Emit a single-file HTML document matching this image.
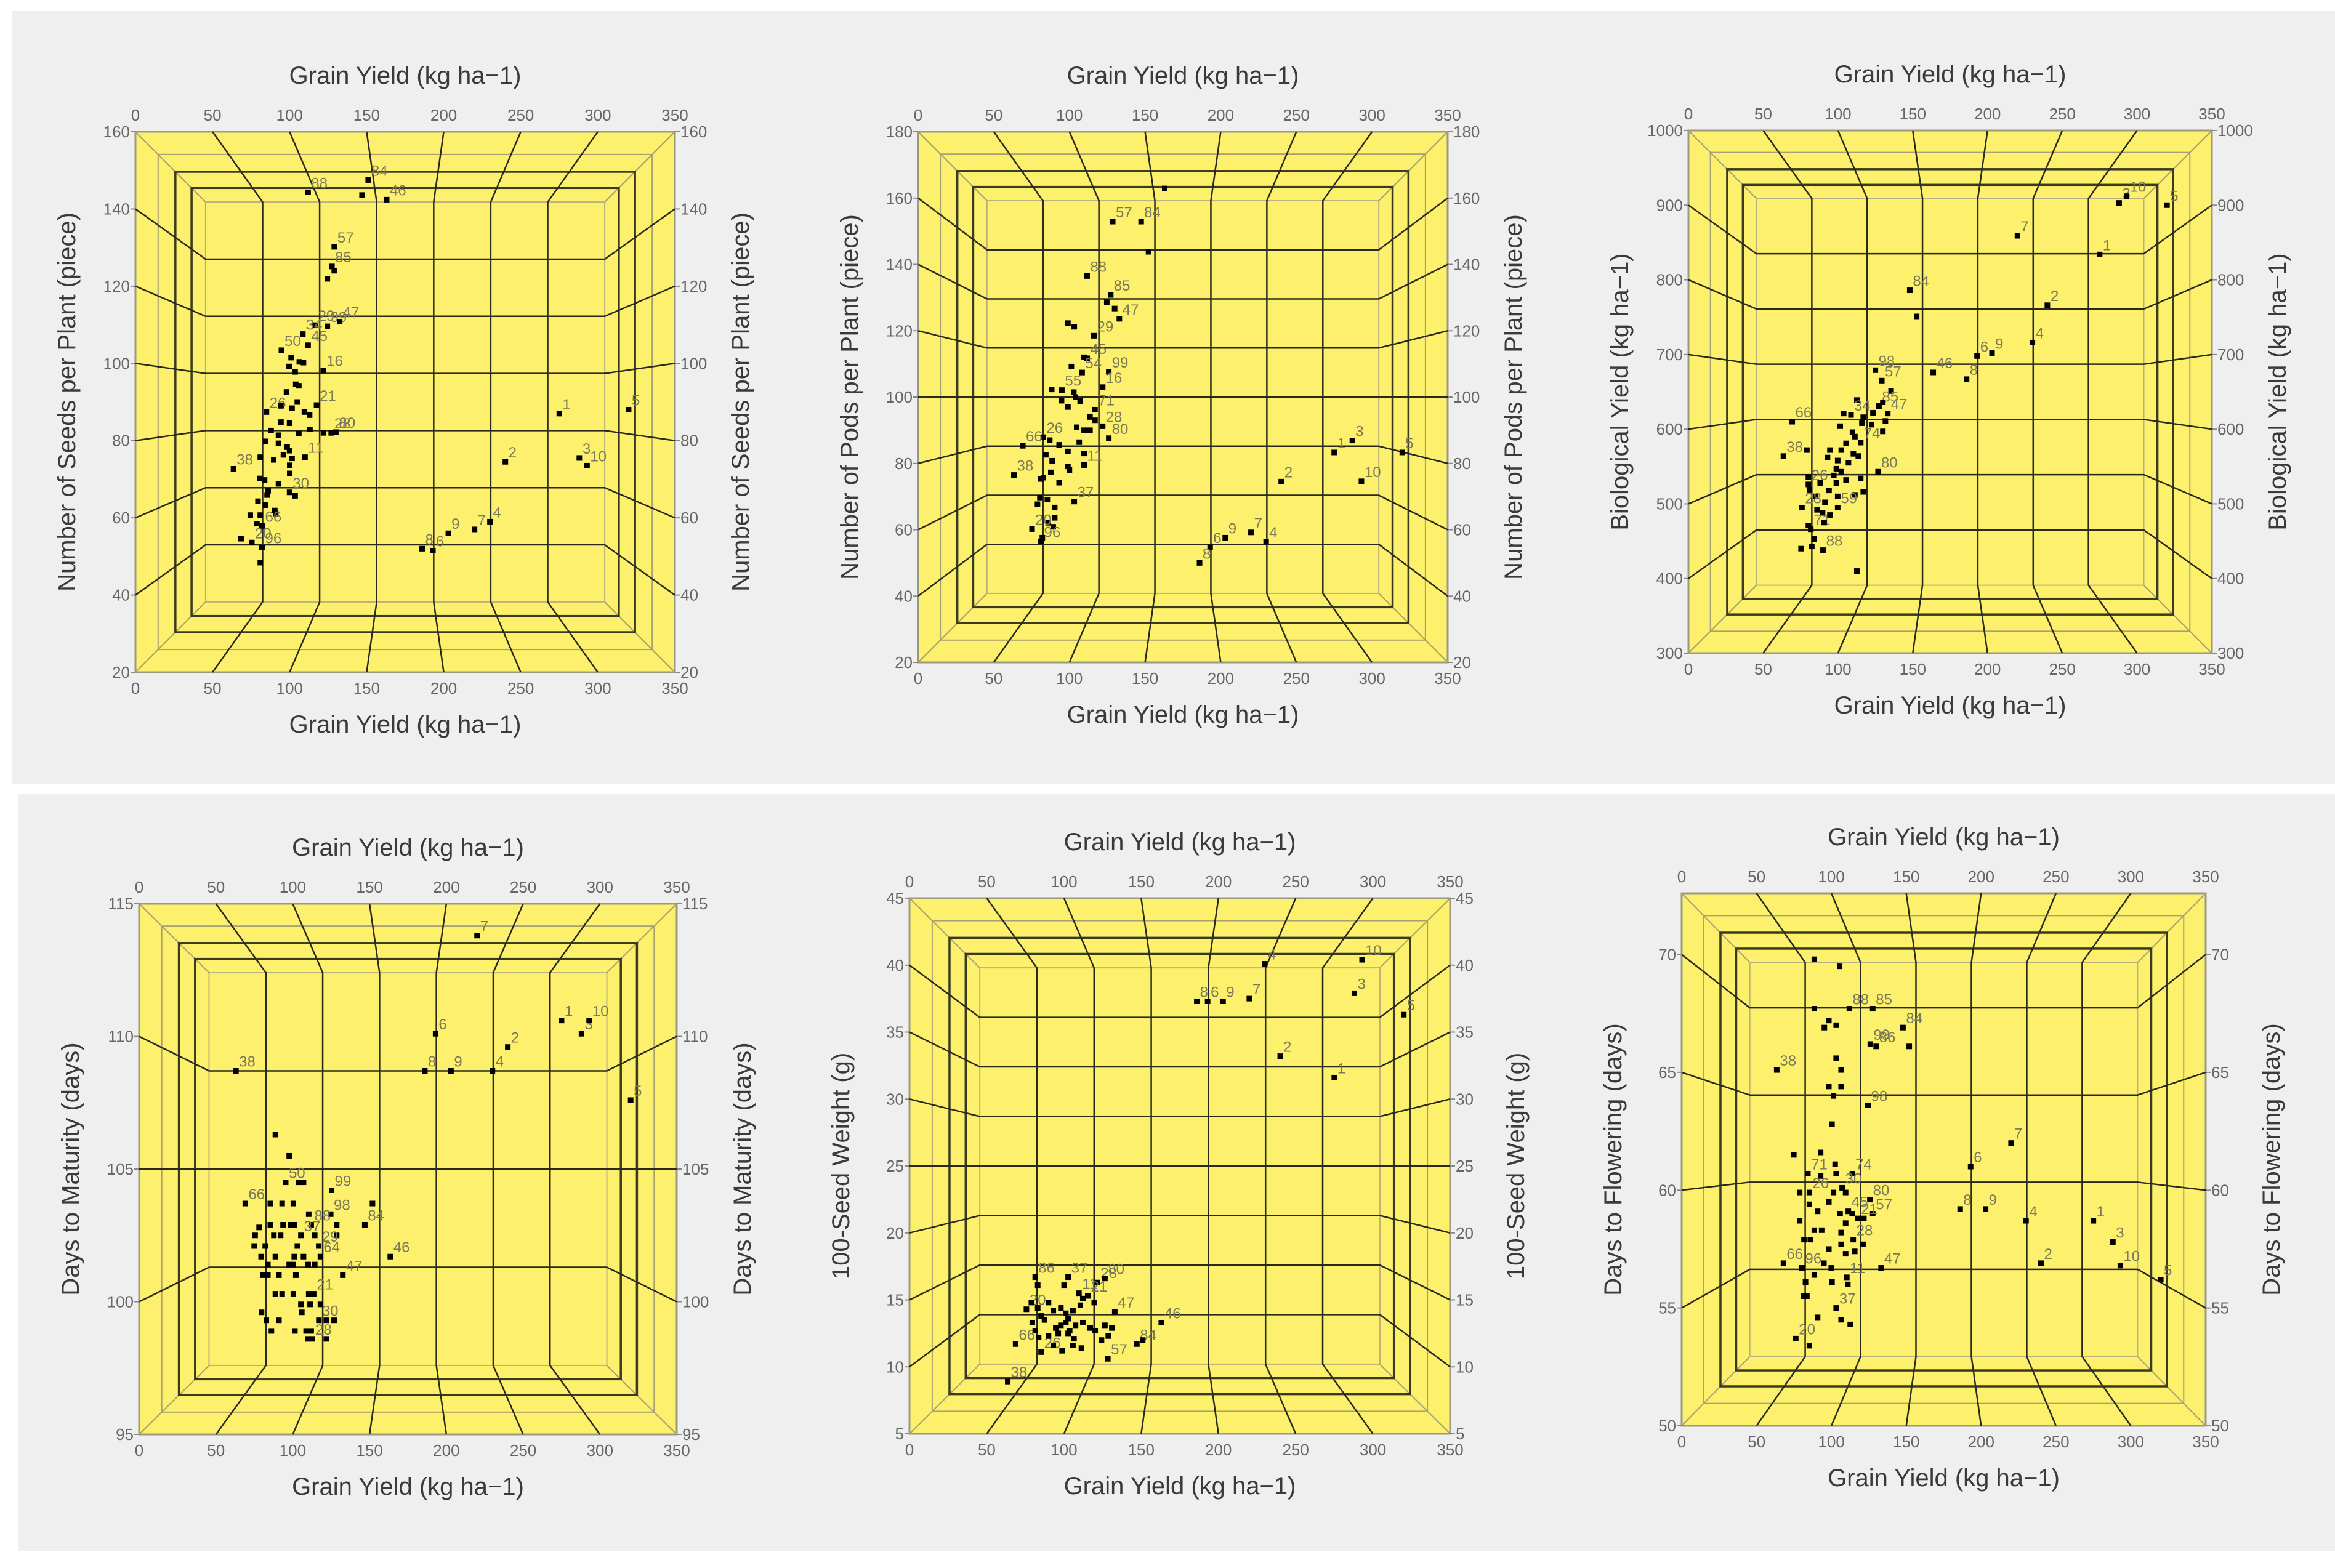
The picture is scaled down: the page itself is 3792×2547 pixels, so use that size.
<!DOCTYPE html>
<html><head><meta charset="utf-8">
<style>
html,body{margin:0;padding:0;background:#fff;}
svg{display:block;font-family:"Liberation Sans",Arial,sans-serif;}
</style></head>
<body>
<svg id="fig" width="3792" height="2547" viewBox="0 0 3792 2547" xmlns="http://www.w3.org/2000/svg">
<rect x="20" y="18" width="3772" height="1256" fill="#efefef"/>
<rect x="29" y="1290" width="3763" height="1230" fill="#efefef"/>
</svg>
<script>
// ---------- data (x = grain yield, y = trait) ----------
const seedsX=[275,240,288,230,320,193,220,186,203,293,112,147,151,163,129,127.5,129,124.5,116.5,124.5,132.5,108.6,112,94.7,101,106.3,109,121.9,99.7,103.6,104,106,98,105,117.5,85,94.4,101.6,109.6,113,100,94.4,106,113.2,122,127,130,88,92.8,84.4,92.8,98.4,100,96,101.6,110,81,89.7,100.1,100.1,63.6,80.5,83.8,92.8,86.1,85.4,100,103.6,79.5,84.4,90.4,91,74.5,81,78.8,82.1,68.5,75.5,82.1,81];
const seedsY=[87,74.5,75.5,59,88,51.5,57,52,56,73.5,144.3,143.6,147.5,142.4,130.2,125.1,124,121.9,109.9,109.6,110.8,107.6,104.7,103.4,101.5,100.4,100.2,98.2,99.2,97.8,94.6,94.2,92.6,90,89.2,87.4,89,88.4,87.4,86.6,84.5,84.8,81.8,82.9,82,82,82.2,82.6,81.4,79.8,79.3,78.3,77.4,76.3,75.4,75.7,75.7,75,73.6,71.5,72.7,70.2,69.8,68.8,67,65.9,66.6,65.7,64.3,63.3,61.9,61.1,60.7,60.7,58.5,57.9,54.6,53.6,52.3,48.4];
const seedsLab=["1","2","3","4","5","6","7","8","9","10","88","","84","46","57","85","","","29","99","47","34","45","50","","","","16","","","","","","","21","26","","","","","","","","","","28","80","","","","","","","","","11","","","","","38","","","","","","30","","","","","","","","","66","","20","96"];

const podsX=[275,240,287,230,320,193,220,186,203,293,163,128.6,147.4,152.3,111.7,127.3,124.7,129.9,133,99,103.2,116.2,109.7,111.7,101.3,108.4,126,122,88.3,95,102.9,104,107.1,94.8,99,116.9,113.6,116.9,122,113.6,109.7,104.8,126,82.8,87,93.2,69.2,106.5,99,99,100,109.7,109.7,84.4,88.6,63.3,87.7,81.2,82.8,93.2,103.2,80.5,85.4,78.9,90.3,90.3,86,75.3,89.3,82.1,81.2];
const podsY=[83.3,74.5,86.9,56.4,83.3,54.7,59.2,50,57.6,74.6,162.9,152.9,152.9,143.8,136.5,130.8,128.6,126.7,123.6,122.3,121.2,118.5,112,111.7,109.2,107.4,107.6,103,102.3,102.1,101.5,100,98.8,98.9,97,96.2,94,93,91.2,90,90,90.9,87.6,87.9,87,85.6,85.3,86.4,83.6,79.1,78,79.5,83,82.6,80.8,76.5,77.3,75.3,75.7,74.2,68.5,69.7,69.1,67.7,66.7,63.6,62.1,60.2,60.9,57.6,56.5];
const podsLab=["1","2","3","4","5","6","7","8","9","10","","57","84","","88","85","","","47","","","29","","45","","54","99","16","","55","","","","","","71","","","28","","","","80","26","","","66","","","","","11","","","","38","","","","","37","","","","","","","20","","","96"];

const bioX=[275,240,288,230,320,193,220,186,203,293,148,152.6,163.7,125,129.3,135.5,127.4,130,133.3,131.7,112.6,108.7,103.8,116.9,123.4,122.5,116,69.4,101.5,109.7,111.3,130,115.2,105.4,102.2,94.6,79.2,63.5,110.3,113.6,93,99.8,107,126.8,98.9,102.2,97.2,80.2,88.1,98.9,80.2,80.9,94,105.4,115.2,85.1,99.8,111.3,116.9,91.3,75.9,99.8,94.6,86,89.7,80.2,81.8,90.7,84.1,75.3,82.5,90,112.6];
const bioY=[834,766,903,716,900,698,859,667,702,912,786,751,676,679,665,651,631,636,621,611,639,619,621,616,622,606,608,610,604,596,590,597,582,581,572,572,572,564,567,564,562,558,555,543,547,543,538,536,528,528,526,519,518,532,534,510,510,512,516,502,495,495,485,492,488,471,466,475,453,440,443,438,410];
const bioLab=["1","2","3","4","5","6","7","8","9","10","84","","46","98","57","","85","","47","","","34","","","","","","66","","","","","74","","","","","38","","","","","","80","","","","","","","26","","","","","","","","","","28","59","","","","","71","","","","","88"];

const matX=[275,240,288,230,320,193,220,186,203,293,63,88.7,97.7,95.4,103.7,107,125.3,69.1,85.4,93.1,100.4,151.9,110.4,124.7,146.9,98.7,101,85.4,78.1,93.7,112,128.6,75.5,87.7,92.1,105.3,114.3,128.6,74.9,82.1,103,116.9,79.4,88.7,101,107,118,163.5,83.8,97.7,100.4,110,114.3,80.4,83.8,91,102,132.6,88.7,93.1,100.4,110.4,113.6,105.3,111.3,118,79.7,105.9,82.8,91,117,121.9,126.9,86.1,101.4,108.7,112,109.7,112.6,121.9];
const matY=[110.6,109.6,110.1,108.7,107.6,110.1,113.8,108.7,108.7,110.6,108.7,106.3,105.5,104.5,104.5,104.5,104.2,103.7,103.7,103.7,103.7,103.7,103.3,103.3,102.9,102.9,102.9,102.9,102.8,102.9,102.9,102.9,102.5,102.5,102.5,102.5,102.5,102.5,102.1,102.1,102.1,102.1,101.7,101.7,101.7,101.7,101.7,101.7,101.4,101.4,101.4,101.4,101.4,101,101,101,101,101,100.3,100.3,100.3,100.3,100.3,99.9,99.9,99.9,99.6,99.6,99.3,99.3,99.3,99.3,99.3,98.9,98.9,98.9,98.9,98.6,98.6,98.6];
const matLab=["1","2","3","4","5","6","7","8","9","10","38","","","50","","","99","66","","","","","","98","84","","","","","","88","","","","","37","","","","","","29","","","","","64","46","","","","","","","","","","47","","","","","21","","","","","","","","30","","","","","","","","28"];

const swX=[275,240,288,230,320,193,220,186,203,293,63.6,68.7,81.4,83,75.7,102.7,100.1,121.7,126.5,109.7,112.2,115.4,110.6,119.6,132.9,163,147.2,151,128.4,78.9,85.2,90,93.1,98,101.2,105.8,79.5,81.4,87.4,94.7,98,101.2,103.7,107.5,112.2,117,120.2,124.3,126.5,131,128.7,83.6,85.2,93.1,98.8,105.8,111.3,90,96.3,106.5,83,102.7,102.7];
const swY=[31.6,33.2,37.9,40.1,36.3,37.3,37.5,37.3,37.3,40.4,8.9,11.7,16.7,16.1,14.3,16.7,16.1,16.3,16.6,15.5,15.1,15.3,14.6,14.8,14.1,13.3,11.7,12,10.6,14.8,13.8,14.8,14.2,14.4,14,14.2,13.3,12.7,13.5,12.9,13.1,13.3,12.7,13.1,13.3,12.9,12.7,12,13.1,12.9,12.3,12.2,11.1,11.6,11.2,11.6,11.4,12.3,12.5,12.1,14.4,13.6,12.5];
const swLab=["1","2","3","4","5","6","7","8","9","10","38","66","86","","20","37","","28","80","11","","21","","","47","46","84","","57","","","","","","","","","","","","","","","","","","","","","","","","26","","","","","","","","","",""];

const flX=[275,240,288,230,320,193,220,186,203,293,88.6,105.5,88.6,112,127.6,147.8,98.3,103.2,95.3,126,129.9,152,63.5,103.2,106.5,98.3,106.5,101.4,124.4,100.4,74.9,92.8,102.5,84.3,114,92.8,103.2,78.8,85.3,101.4,109.5,107.2,125.7,85.3,90.8,98.3,111.3,113.9,105.8,127.6,117.8,121.7,78.8,109.5,88.6,93.5,106.5,81.7,85.9,114.6,121.1,115.6,98.3,109.5,106.5,68,80.4,95,99.9,133.2,88.6,110.3,82.7,100.4,111,81.4,83.6,103.2,90.8,106.5,112.6,76.2,85.3];
const flY=[58.7,56.9,57.8,58.7,56.2,61,62,59.2,59.2,56.8,69.8,69.5,67.7,67.7,67.7,66.9,67.2,67,66.9,66.2,66.1,66.1,65.1,65.6,65.1,64.4,64.4,64,63.6,62.8,61.5,61.6,61.1,60.7,60.7,60.6,60.7,59.9,59.9,59.9,59.9,60.1,59.6,59.4,59.1,59.5,59.1,59,59,59,58.8,58.8,58.7,58.6,58.3,58.3,58.2,57.9,57.9,57.9,57.7,57.4,57.5,57.3,57.7,56.9,56.7,56.9,56.7,56.7,56.4,56.3,56.1,56.1,56,55.5,55.5,55,54.6,54.5,54.3,53.7,53.4];
const flLab=["1","2","3","4","5","6","7","8","9","10","","","","88","85","84","","","","99","86","","38","","","","","","98","","","","","71","74","","","","26","","","30","80","","","","45","","","57","21","","","","","","","","","28","","","","","","66","96","","","47","","11","","","","","","37","","","","20",""];

const xTicks=[0,50,100,150,200,250,300,350];
const ySeedsTicks=[20,40,60,80,100,120,140,160];
const yPodsTicks=[20,40,60,80,100,120,140,160,180];
const yBioTicks=[300,400,500,600,700,800,900,1000];
const yMatTicks=[95,100,105,110,115];
const ySwTicks=[5,10,15,20,25,30,35,40,45];
const yFlTicks=[50,55,60,65,70];

// ---------- layout ----------
const panels=[
 {id:"seeds",L:220,T:214,R:1096,B:1092,ymin:20,ymax:160,ticks:ySeedsTicks,title:"Number of Seeds per Plant (piece)",xs:seedsX,ys:seedsY,lab:seedsLab},
 {id:"pods",L:1491,T:214,R:2351,B:1076,ymin:20,ymax:180,ticks:yPodsTicks,title:"Number of Pods per Plant (piece)",xs:podsX,ys:podsY,lab:podsLab},
 {id:"bio",L:2742,T:212,R:3592,B:1061,ymin:300,ymax:1000,ticks:yBioTicks,title:"Biological Yield (kg ha\u22121)",xs:bioX,ys:bioY,lab:bioLab},
 {id:"maturity",L:226,T:1468,R:1099,B:2330,ymin:95,ymax:115,ticks:yMatTicks,title:"Days to Maturity (days)",xs:matX,ys:matY,lab:matLab},
 {id:"seedweight",L:1477,T:1459,R:2355,B:2329,ymin:5,ymax:45,ticks:ySwTicks,title:"100-Seed Weight (g)",xs:swX,ys:swY,lab:swLab},
 {id:"flowering",L:2731,T:1451,R:3582,B:2316,ymin:50,ymax:72.6,ticks:yFlTicks,title:"Days to Flowering (days)",xs:flX,ys:flY,lab:flLab}
];
const NS="http://www.w3.org/2000/svg";
const svg=document.getElementById("fig");
function mk(tag,attrs,parent,txt){const e=document.createElementNS(NS,tag);for(const k in attrs)e.setAttribute(k,attrs[k]);if(txt!==undefined)e.textContent=txt;parent.appendChild(e);return e;}

panels.forEach(p=>{
  const g=mk("g",{},svg);
  
  
  const W=p.R-p.L,H=p.B-p.T;
  const xS=v=>p.L+v/350*W;
  const yS=v=>p.B-(v-p.ymin)/(p.ymax-p.ymin)*H;
  const bg=mk("rect",{x:p.L,y:p.T,width:W,height:H,fill:"#fcf06c",stroke:"#9a9a80","stroke-width":3},g);
  
  
  const inn=0.13;
  const iL=p.L+inn*W,iR=p.R-inn*W,iT=p.T+inn*H,iB=p.B-inn*H;
  // diagonals
  [[p.L,p.T,iL,iT],[p.R,p.T,iR,iT],[p.L,p.B,iL,iB],[p.R,p.B,iR,iB]].forEach(d=>mk("line",{x1:d[0],y1:d[1],x2:d[2],y2:d[3],stroke:"#a8a070","stroke-width":2},g));
  // frames
  [[0.042,"#a8a070",2],[0.074,"#3a3a20",3.5],[0.104,"#3a3a20",3.5],[inn,"#b8b080",2]].forEach(f=>{
    mk("rect",{x:p.L+f[0]*W,y:p.T+f[0]*H,width:W*(1-2*f[0]),height:H*(1-2*f[0]),fill:"none",stroke:f[1],"stroke-width":f[2]},g);
  });
  // x perspective grid
  xTicks.forEach(t=>{
    const ox=xS(t),bx=iL+t/350*(iR-iL);
    if(t>0&&t<350){
      const gl=mk("polyline",{points:`${ox},${p.T} ${bx},${iT} ${bx},${iB} ${ox},${p.B}`,fill:"none",stroke:"#2a2a1a","stroke-width":2.5},g);
      
      
    }
    const t1=mk("text",{x:ox,y:p.T-18,"text-anchor":"middle","font-size":26,fill:"#666"},g,String(t));
    
    
    const t2=mk("text",{x:ox,y:p.B+35,"text-anchor":"middle","font-size":26,fill:"#666"},g,String(t));
    
    
  });
  // y perspective grid
  p.ticks.forEach(t=>{
    const oy=yS(t),by=iB-(t-p.ymin)/(p.ymax-p.ymin)*(iB-iT);
    if(t>p.ymin&&t<p.ymax){
      const gl=mk("polyline",{points:`${p.L},${oy} ${iL},${by} ${iR},${by} ${p.R},${oy}`,fill:"none",stroke:"#2a2a1a","stroke-width":2.5},g);
      
      
    }
    mk("line",{x1:p.L-8,y1:oy,x2:p.L,y2:oy,stroke:"#888","stroke-width":2},g);
    mk("line",{x1:p.R,y1:oy,x2:p.R+8,y2:oy,stroke:"#888","stroke-width":2},g);
    const a=mk("text",{x:p.L-9,y:oy+9,"text-anchor":"end","font-size":26,fill:"#666"},g,String(t));
    
    
    const b=mk("text",{x:p.R+9,y:oy+9,"text-anchor":"start","font-size":26,fill:"#666"},g,String(t));
    
    
  });
  // titles
  const cx=(p.L+p.R)/2,cy=(p.T+p.B)/2;
  const tt=mk("text",{x:cx,y:p.T-78,"text-anchor":"middle","font-size":40,fill:"#3a3a3a"},g,"Grain Yield (kg ha\u22121)");
  
  
  const tb=mk("text",{x:cx,y:p.B+98,"text-anchor":"middle","font-size":40,fill:"#3a3a3a"},g,"Grain Yield (kg ha\u22121)");
  
  
  const yl=mk("text",{x:0,y:0,"text-anchor":"middle","font-size":40,fill:"#3a3a3a",transform:`translate(${p.L-98},${cy}) rotate(-90)`},g,p.title);
  
  
  const yr=mk("text",{x:0,y:0,"text-anchor":"middle","font-size":40,fill:"#3a3a3a",transform:`translate(${p.R+120},${cy}) rotate(-90)`},g,p.title);
  
  
  // points
  p.xs.forEach((xv,i)=>{
    const px=xS(xv),py=yS(p.ys[i]);
    const r=mk("rect",{x:px-4.5,y:py-4.5,width:9,height:9,fill:"#000"},g);
    
    
    if(p.lab[i]){
      const l=mk("text",{x:px+5,y:py-7,"font-size":24,fill:"#7a7a5a"},g,p.lab[i]);
      
      
    }
  });
});
</script>
</body></html>
